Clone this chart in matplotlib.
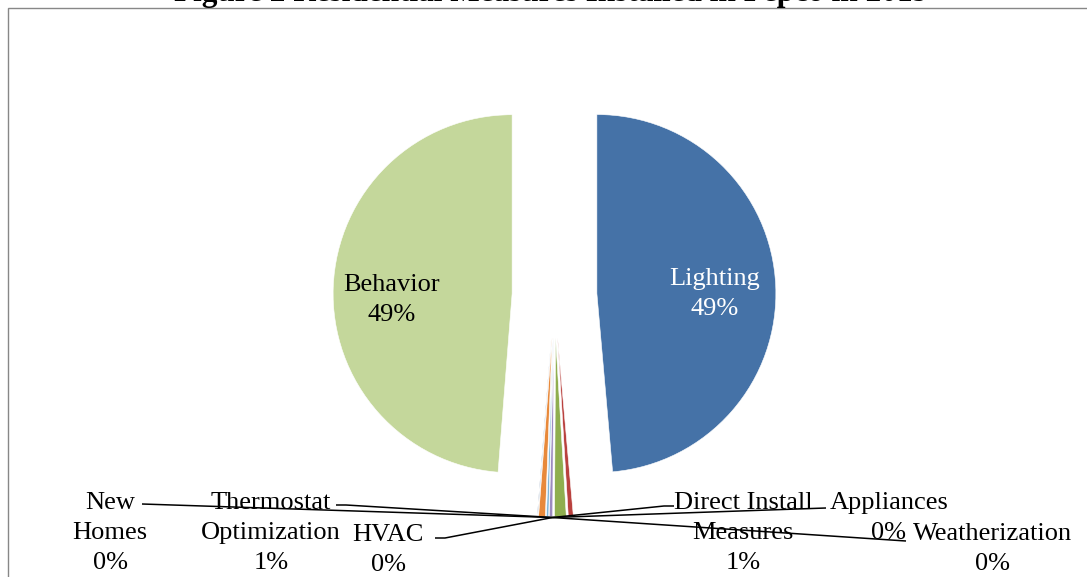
"""
Residential measures installed in Pepco in 2019 - exploded pie.
"""
import matplotlib.pyplot as plt
from matplotlib.patches import Rectangle

categories = ['Lighting', 'Appliances', 'Direct Install Measures',
              'Weatherization', 'HVAC', 'Thermostat Optimization',
              'New Homes', 'Behavior']
shares = [48.6, 0.45, 1.05, 0.3, 0.2, 0.6, 0.05, 48.75]
colors = ['#4572A7', '#B9413E', '#8FAE4F', '#9C8AC0', '#7EB6D8', '#E8893A',
          '#3B5E8C', '#C4D79B']
title = 'Figure 2 Residential Measures Installed in Pepco in 2019'

W, H = 1087, 577
CX, CY, R = 554.5, 295.4, 179.0  # pie centre and radius in pixels
TIP = (552.5, 517.5)  # where the leader lines meet the small slices
SERIF = ['Liberation Serif', 'DejaVu Serif']

# label centre (px), wrapped text, leader line points (px) ending at TIP
label_layout = {
    'Lighting': ((715, 294), 'Lighting', None),
    'Behavior': ((392, 300), 'Behavior', None),
    'New Homes': ((110, 533), 'New\nHomes', [(142, 504)]),
    'Thermostat Optimization': ((271, 533), 'Thermostat\nOptimization',
                                [(336, 505), (346, 505)]),
    'HVAC': ((388, 550), 'HVAC', [(435, 538), (445, 538)]),
    'Direct Install Measures': ((743, 533), 'Direct Install\nMeasures',
                                [(674, 506), (664, 506)]),
    'Appliances': ((889, 518), 'Appliances', [(826, 508)]),
    'Weatherization': ((993, 549), 'Weatherization', [(906, 541)]),
}


def px(x, y):
    return (x - CX) / R, (CY - y) / R


fig = plt.figure(figsize=(W / 100, H / 100), dpi=100)
ax = fig.add_axes([0, 0, 1, 1])

ax.pie(shares, colors=colors, explode=[0.237] * len(shares), startangle=90,
       counterclock=False, radius=1,
       wedgeprops=dict(edgecolor='white', linewidth=0.4))

for name, value in zip(categories, shares):
    (lx, ly), text, leader = label_layout[name]
    ax.text(*px(lx, ly), '{}\n{:.0f}%'.format(text, round(value)),
            ha='center', va='center', multialignment='center',
            fontsize=19, family=SERIF, linespacing=1.47,
            color='white' if name == 'Lighting' else 'black')
    if leader:
        pts = [px(*p) for p in leader + [TIP]]
        ax.plot([p[0] for p in pts], [p[1] for p in pts], color='black',
                lw=1.1, solid_capstyle='butt')

ax.set_aspect('auto')
ax.set_xlim(px(0, 0)[0], px(W, 0)[0])
ax.set_ylim(px(0, H)[1], px(0, 0)[1])
ax.axis('off')

fig.add_artist(Rectangle((7.5 / W, -0.5), 2.0, (H - 8.0) / H + 0.5,
                         transform=fig.transFigure, fill=False,
                         edgecolor='#878787', linewidth=1.0))
# the caption sits above the frame and is mostly cut off
fig.text(551 / W, 1 - 1 / H, title, ha='center', va='baseline', fontsize=22.5,
         fontweight='bold', family=SERIF)

fig.savefig('out.png', dpi=100)
